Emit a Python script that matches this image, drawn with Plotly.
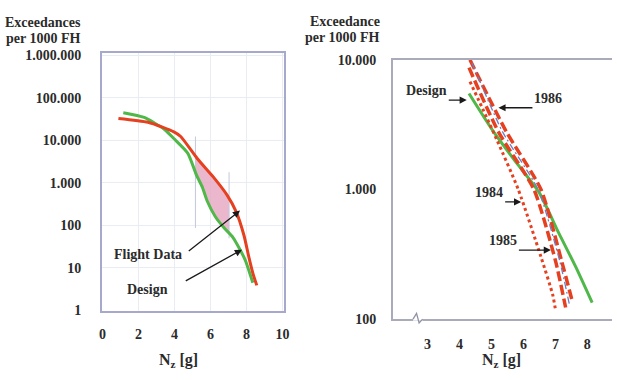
import numpy as np
import plotly.graph_objects as go

# ---------------- Data: left panel ----------------
left_flight_nz = [0.88, 2.53, 3.96, 4.34, 5.27, 6.15, 6.92, 7.42, 7.86, 8.13, 8.35, 8.57]
left_flight_exc = [32700, 26500, 15800, 12300, 3700, 1380, 515, 212, 58, 18, 7.6, 3.9]
left_design_nz = [1.15, 2.31, 3.41, 3.96, 4.73, 5.22, 5.55, 5.82, 6.26, 6.76, 7.25, 7.91, 8.35]
left_design_exc = [44700, 34500, 18500, 11000, 5000, 1520, 780, 370, 162, 87, 52, 16, 4.5]
band_nz = [5.16, 7.03]
band_line1_exc = [12300, 87]
band_line2_exc = [1780, 50]

left_x_ticks = [0, 2, 4, 6, 8, 10]
left_y_ticks = [1, 10, 100, 1000, 10000, 100000, 1000000]
left_y_labels = ["1", "10", "100", "1.000", "10.000", "100.000", "1.000.000"]

# ---------------- Data: right panel ----------------
r_design_nz = [4.30, 5.07, 5.78, 6.49, 7.10, 7.63, 8.15]
r_design_exc = [5500, 2780, 1610, 950, 465, 255, 134]
r_1984_nz = [4.33, 5.16, 5.84, 6.55, 6.92, 7.01]
r_1984_exc = [6800, 2450, 1000, 302, 153, 115]
r_1985_nz = [4.30, 5.22, 6.33, 7.01, 7.32]
r_1985_exc = [8700, 2780, 1000, 278, 123]
r_1986_nz = [4.33, 5.47, 6.55, 7.20, 7.54]
r_1986_exc = [10000, 2780, 1000, 278, 134]
r_mid_nz = [4.39, 5.35, 6.46, 7.14, 7.44]
r_mid_exc = [9500, 2780, 1000, 278, 129]

right_x_ticks = [3, 4, 5, 6, 7, 8]
right_y_ticks = [100, 1000, 10000]
right_y_labels = ["100", "1.000", "10.000"]

RED = "#e5401f"
GREEN = "#4fb848"
BLUE = "#6b80c6"
PINK = "rgba(232,170,196,0.85)"
TXT = "#2b2b2b"
FONT = "Liberation Serif"

fig = go.Figure()

def log_interp(x, xs, ys):
    return 10 ** np.interp(x, xs, np.log10(ys))

b0, b1 = band_nz
top_x = [b0] + [v for v in left_flight_nz if b0 < v < b1] + [b1]
top_y = [log_interp(v, left_flight_nz, left_flight_exc) for v in top_x]
bot_x = [b0] + [v for v in left_design_nz if b0 < v < b1] + [b1]
bot_y = [log_interp(v, left_design_nz, left_design_exc) for v in bot_x]
fig.add_trace(go.Scatter(x=top_x + bot_x[::-1], y=top_y + bot_y[::-1], fill="toself",
                         fillcolor=PINK, line=dict(width=0), mode="lines",
                         xaxis="x", yaxis="y", showlegend=False, hoverinfo="skip"))
fig.add_trace(go.Scatter(x=[b0, b0], y=band_line1_exc, mode="lines",
                         line=dict(color="#c3c7dc", width=1), xaxis="x", yaxis="y", showlegend=False))
fig.add_trace(go.Scatter(x=[b1, b1], y=band_line2_exc, mode="lines",
                         line=dict(color="#c3c7dc", width=1), xaxis="x", yaxis="y", showlegend=False))

fig.add_trace(go.Scatter(x=left_design_nz, y=left_design_exc, mode="lines", name="Design",
                         line=dict(color=GREEN, width=3, shape="spline", smoothing=0.6),
                         xaxis="x", yaxis="y", showlegend=False))
fig.add_trace(go.Scatter(x=left_flight_nz, y=left_flight_exc, mode="lines", name="Flight Data",
                         line=dict(color=RED, width=3, shape="spline", smoothing=0.6),
                         xaxis="x", yaxis="y", showlegend=False))

fig.add_trace(go.Scatter(x=r_design_nz, y=r_design_exc, mode="lines", name="Design",
                         line=dict(color=GREEN, width=3, shape="spline", smoothing=0.6),
                         xaxis="x2", yaxis="y2", showlegend=False))
fig.add_trace(go.Scatter(x=r_1984_nz, y=r_1984_exc, mode="lines", name="1984",
                         line=dict(color=RED, width=3, dash="3px,3px", shape="spline", smoothing=0.6),
                         xaxis="x2", yaxis="y2", showlegend=False))
fig.add_trace(go.Scatter(x=r_1985_nz, y=r_1985_exc, mode="lines", name="1985",
                         line=dict(color=RED, width=3.5, dash="10px,4px", shape="spline", smoothing=0.6),
                         xaxis="x2", yaxis="y2", showlegend=False))
fig.add_trace(go.Scatter(x=r_1986_nz, y=r_1986_exc, mode="lines", name="1986",
                         line=dict(color=RED, width=3.5, dash="10px,4px", shape="spline", smoothing=0.6),
                         xaxis="x2", yaxis="y2", showlegend=False))
fig.add_trace(go.Scatter(x=r_mid_nz, y=r_mid_exc, mode="lines", name="mean",
                         line=dict(color=BLUE, width=1.3, dash="7px,3px,2px,3px", shape="spline", smoothing=0.6),
                         xaxis="x2", yaxis="y2", showlegend=False))

tickfont = dict(family=FONT, size=14, color=TXT, weight="bold")

fig.update_layout(
    width=617, height=380,
    margin=dict(l=0, r=0, t=0, b=0),
    paper_bgcolor="white", plot_bgcolor="white",
    font=dict(family=FONT, color=TXT),
    xaxis=dict(domain=[100/617, 285/617], range=[-0.05, 10.1], tickvals=left_x_ticks,
               showline=True, linecolor="#a6a9cc", linewidth=1.5, mirror=True,
               showgrid=True, gridcolor="#eaecf4", zeroline=False, ticks="",
               tickfont=tickfont, ticklabelstandoff=10, anchor="y"),
    yaxis=dict(domain=[64/380, 332/380], type="log", range=[0, 6.05],
               tickvals=left_y_ticks, ticktext=left_y_labels,
               showline=True, linecolor="#a6a9cc", linewidth=1.5, mirror=True,
               showgrid=True, gridcolor="#eaecf4", zeroline=False, ticks="",
               tickfont=tickfont, ticklabelstandoff=16, anchor="x"),
    xaxis2=dict(domain=[395/617, 1.0], range=[1.92, 8.77], tickvals=right_x_ticks,
                showline=True, linecolor="#a9abba", linewidth=1.5, mirror=True,
                showgrid=False, zeroline=False, ticks="",
                tickfont=tickfont, ticklabelstandoff=11, anchor="y2"),
    yaxis2=dict(domain=[55/380, 325/380], type="log", range=[2, 4],
                tickvals=right_y_ticks, ticktext=right_y_labels,
                showline=True, linecolor="#a9abba", linewidth=1.5, mirror=False,
                showgrid=False, zeroline=False, ticks="",
                tickfont=tickfont, ticklabelstandoff=12, anchor="x2"),
)

ann = []
def txt(x, y, s, size=14, xanchor="center"):
    ann.append(dict(x=x/617, y=1 - y/380, xref="paper", yref="paper", text=s, showarrow=False,
                    xanchor=xanchor, yanchor="middle",
                    font=dict(family=FONT, size=size, color=TXT)))

def label_arrow(xref, yref, s, hx, hy, ax, ay, xanchor, yanchor, standoff=0):
    ann.append(dict(x=hx, y=np.log10(hy), xref=xref, yref=yref, text=s, showarrow=True,
                    ax=ax, ay=ay, xanchor=xanchor, yanchor=yanchor, startstandoff=standoff,
                    arrowhead=2, arrowsize=1.1, arrowwidth=1.3, arrowcolor="#1a1a1a",
                    font=dict(family=FONT, size=14, color=TXT)))

# titles
txt(81, 16, "<b>Exceedances</b>", 14, "right")
txt(81, 33, "<b>per 1000 FH</b>", 14, "right")
txt(384, 15, "<b>Exceedance</b>", 14, "right")
txt(384, 32, "<b>per 1000 FH</b>", 14, "right")
txt(178, 368, "<b>N<sub>z</sub> [g]</b>", 16)
txt(505, 368, "<b>N<sub>z</sub> [g]</b>", 16)

# left annotations (head in data coords, tail offset in pixels)
label_arrow("x", "y", "<b>Flight Data</b>", 7.64, 223, -56, 44, "right", "middle", 6)
label_arrow("x", "y", "<b>Design</b>", 7.75, 27, -72, 40, "right", "middle", 18)

# right annotations
label_arrow("x2", "y2", "<b>Design</b>", 4.23, 4890, -18, 0, "right", "bottom")
label_arrow("x2", "y2", "<b>1986</b>", 5.22, 4270, 34, 0, "left", "bottom")
label_arrow("x2", "y2", "<b>1984</b>", 5.93, 802, -16, 0, "right", "bottom")
label_arrow("x2", "y2", "<b>1985</b>", 6.86, 341, -32, 0, "right", "bottom")

fig.update_layout(annotations=ann)

# axis break mark on right x-axis
fig.add_shape(type="line", xref="x2", yref="paper", x0=2.55, x1=2.85,
              y0=55/380, y1=55/380, line=dict(color="white", width=3))
fig.add_shape(type="path", xref="x2", yref="paper",
              path=f"M 2.55 {55/380} L 2.66 {61/380} L 2.74 {51/380} L 2.85 {55/380}",
              line=dict(color="#8f93a8", width=1.3))

fig.write_html("out.html", config={"displayModeBar": False},
               post_script="document.body.style.margin='0px';document.body.style.overflow='hidden';")
